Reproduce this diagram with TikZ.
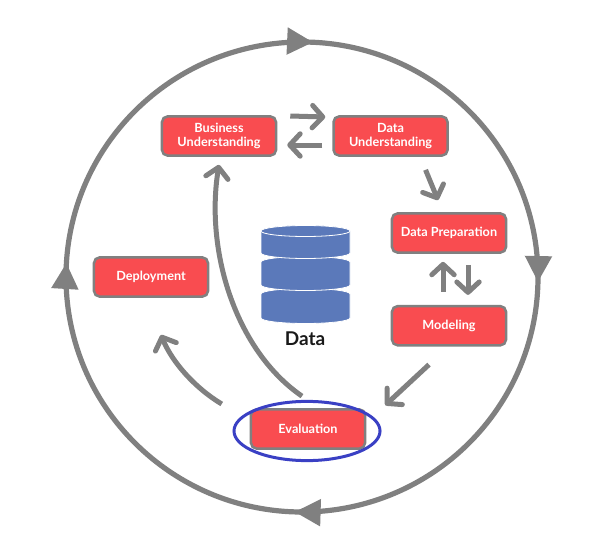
\documentclass[tikz,border=0pt]{standalone}
\usepackage{fontspec}
\setmainfont{Lato}
\usetikzlibrary{arrows.meta,positioning,shapes.geometric,decorations.markings}

\definecolor{boxred}{HTML}{F94C50}
\definecolor{linegray}{HTML}{808080}
\definecolor{diskblue}{HTML}{5B79BA}
\definecolor{ovalblue}{HTML}{3A40C4}

\tikzset{
	phase/.style = {rectangle, draw=linegray, fill=boxred, line width=2.5*0.025cm, rounded corners=0.14cm,
		minimum width=2.85cm, minimum height=0.98cm, align=center, text=white, font=\bfseries\fontsize{9}{10}\selectfont},
	flow/.style = {draw=linegray, line width=0.125cm, -{Straight Barb[length=0.26cm,width=0.56cm,round,line width=0.125cm]}},
	disk/.style = {fill=diskblue, draw=white, line width=0.02cm},
	ring/.style = {draw=linegray, line width=0.13cm, postaction={decorate}, decoration={markings,
		mark=at position 0.0034 with {\arrow{Triangle[length=0.65cm,width=0.65cm]}},
		mark=at position 0.255 with {\arrow{Triangle[length=0.65cm,width=0.65cm]}},
		mark=at position 0.5095 with {\arrow{Triangle[length=0.65cm,width=0.65cm]}},
		mark=at position 0.7575 with {\arrow{Triangle[length=0.65cm,width=0.65cm]}}}}
}

\begin{document}
\begin{tikzpicture}[x=0.025cm,y=-0.025cm]
	\useasboundingbox (0,0) rectangle (600,539);

	\draw[ring] (302,277) ellipse [x radius=236, y radius=235];

	\node[phase] (bu) at (219,136) {Business\\Understanding};
	\node[phase, right = 1.375cm of bu] (du) {Data\\Understanding};
	\node[phase] (dp) at (449,233) {Data Preparation};
	\node[phase, below = 1.275cm of dp] (mo) {Modeling};
	\node[phase] (ev) at (308,429) {Evaluation};
	\node[phase] (de) at (151,277) {Deployment};
	\node[ellipse, draw=ovalblue, line width=0.075cm, minimum width=3.65cm, minimum height=1.48cm] (oval) at ([shift={(-1,2)}]ev) {};

	\draw[flow] ([shift={(13,-20)}]bu.east) -- ([shift={(-7,-19)}]du.west);
	\draw[flow] ([shift={(-10,9)}]du.west) -- ([shift={(10,9)}]bu.east);
	\draw[flow] ([shift={(35,13)}]du.south) -- ([shift={(-11,-12)}]dp.north);
	\draw[flow] ([shift={(-6,-13)}]mo.north) -- ([shift={(-6,8)}]dp.south);
	\draw[flow] ([shift={(19,11)}]dp.south) -- ([shift={(19,-10)}]mo.north);
	\draw[flow] ([shift={(-20,18)}]mo.south) -- ([shift={(19,-3)}]ev.north east);
	\draw[flow] ([shift={(-6,-12)}]ev.north) .. controls (235,350) and (205,250) .. ([shift={(0,8)}]bu.south);
	\draw[flow] ([shift={(-28,-25)}]ev.west) .. controls (195,388) and (172,362) .. ([shift={(10,37)}]de.south);

	\path[disk] (261,294) -- (261,318) arc [start angle=180, end angle=0, x radius=44.5, y radius=5.5] -- (350,294) arc [start angle=0, end angle=-180, x radius=44.5, y radius=5.5] -- cycle;
	\path[disk] (261,262) -- (261,285) arc [start angle=180, end angle=0, x radius=44.5, y radius=5.5] -- (350,262) arc [start angle=0, end angle=-180, x radius=44.5, y radius=5.5] -- cycle;
	\path[disk] (261,231) -- (261,253) arc [start angle=180, end angle=0, x radius=44.5, y radius=5.5] -- (350,231) arc [start angle=0, end angle=-180, x radius=44.5, y radius=5.5] -- cycle;
	\path[disk] (305.5,231) ellipse [x radius=44.5, y radius=5.5];

	\node[font=\bfseries\fontsize{13.5}{15}\selectfont, text=black!90] (data) at (305,339) {Data};
\end{tikzpicture}
\end{document}
